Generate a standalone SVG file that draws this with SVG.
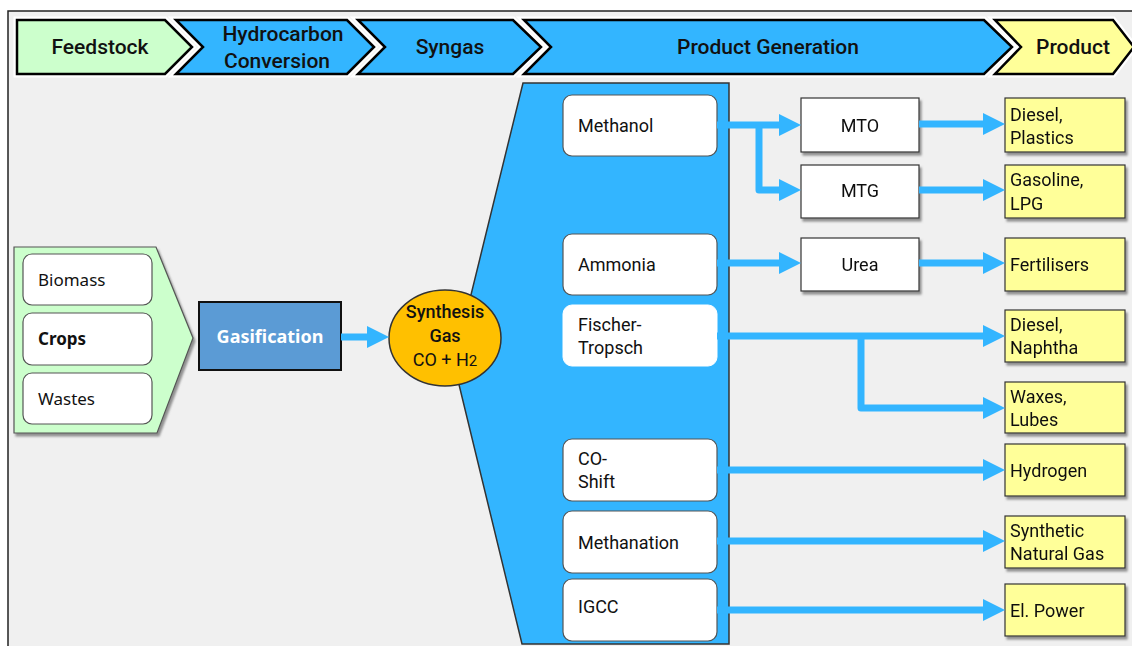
<svg xmlns="http://www.w3.org/2000/svg" width="1132" height="646" viewBox="0 0 1132 646">
<style>
.hdr{stroke:#000;stroke-width:2.5;stroke-linejoin:miter}
.hgap{fill:none;stroke:#fff;stroke-width:7;stroke-linejoin:miter}
.ht{font-family:Roboto,"Liberation Sans",sans-serif;font-weight:500;font-size:21px;fill:#111;text-anchor:middle}
.wbox{fill:#fff;stroke:#555;stroke-width:1.2}
.sq{fill:#fff;stroke:#333;stroke-width:1.2}
.yb{fill:#ffff99;stroke:#333;stroke-width:1.2}
.t{font-family:Roboto,"Liberation Sans",sans-serif;font-size:18px;fill:#111}
.tc{font-family:Roboto,"Liberation Sans",sans-serif;font-size:18px;fill:#111;text-anchor:middle}
.ts{font-family:"Noto Sans","Open Sans",sans-serif;font-size:17px;fill:#111}
.arr{fill:none;stroke:#33b5ff;stroke-width:7;stroke-linejoin:round}
</style>
<defs>
<marker id="ah" markerUnits="userSpaceOnUse" viewBox="0 0 22 22" markerWidth="22" markerHeight="22" refX="2" refY="11" orient="auto">
<path d="M0,0 L22,11 L0,22 z" fill="#33b5ff"/>
</marker>
<filter id="sh" x="-10%" y="-10%" width="130%" height="140%">
<feDropShadow dx="2" dy="3" stdDeviation="1" flood-color="#777" flood-opacity="0.8"/>
</filter>
</defs>
<rect x="0" y="0" width="1132" height="646" fill="#fff"/>
<rect x="8" y="11" width="1140" height="660" fill="#f0f0f0" stroke="#222" stroke-width="1.5"/>

<g id="header">
<g class="hgap">
<polygon points="17,20 165,20 192,47 165,74 17,74"/>
<polygon points="176,20 347,20 374,47 347,74 176,74 203,47"/>
<polygon points="358,20 513,20 541,47 513,74 358,74 385,47"/>
<polygon points="524,20 984,20 1012,47 984,74 524,74 551,47"/>
<polygon points="995,20 1113,20 1134,47 1113,74 995,74 1021,47"/>
</g>
<polygon class="hdr" fill="#ccffcc" points="17,20 165,20 192,47 165,74 17,74"/>
<polygon class="hdr" fill="#33b5ff" points="176,20 347,20 374,47 347,74 176,74 203,47"/>
<polygon class="hdr" fill="#33b5ff" points="358,20 513,20 541,47 513,74 358,74 385,47"/>
<polygon class="hdr" fill="#33b5ff" points="524,20 984,20 1012,47 984,74 524,74 551,47"/>
<polygon class="hdr" fill="#ffff99" points="995,20 1113,20 1134,47 1113,74 995,74 1021,47"/>
<text class="ht" x="100" y="54">Feedstock</text>
<text class="ht" x="283" y="41">Hydrocarbon</text>
<text class="ht" x="277" y="68">Conversion</text>
<text class="ht" x="450" y="54">Syngas</text>
<text class="ht" x="768" y="54">Product Generation</text>
<text class="ht" x="1073" y="54">Product</text>
</g>

<g id="feedstock">
<polygon points="14,247 156,247 193,338 157,433 14,433" fill="#ccffcc" stroke="#555" stroke-width="1.2" filter="url(#sh)"/>
<g id="biomass"><rect class="wbox" x="23" y="254" width="129" height="51" rx="9"/><text class="ts" x="38" y="286">Biomass</text></g>
<g id="crops"><rect class="wbox" x="23" y="313" width="129" height="52" rx="9"/><text class="ts" x="38" y="345" font-weight="bold" font-size="18">Crops</text></g>
<g id="wastes"><rect class="wbox" x="23" y="373" width="129" height="51" rx="9"/><text class="ts" x="38" y="405">Wastes</text></g>
</g>

<g id="gasification">
<rect x="199" y="302" width="142" height="68" fill="#5b9bd5" stroke="#111" stroke-width="2"/>
<text x="270" y="343" font-family="'Noto Sans','Open Sans',sans-serif" font-size="18" font-weight="bold" fill="#fff" text-anchor="middle">Gasification</text>
</g>

<g id="productgen">
<polygon points="523,83 729,83 729,644 522,644 454,364" fill="#33b5ff" stroke="#333" stroke-width="1.5"/>
</g>

<g id="syngas">
<ellipse cx="445" cy="338" rx="56" ry="48" fill="#ffc000" stroke="#333" stroke-width="1.5"/>
<text class="tc" x="445" y="318" font-weight="500" font-size="19">Synthesis</text>
<text class="tc" x="445" y="342" font-weight="500" font-size="19">Gas</text>
<text class="tc" x="445" y="366" font-size="19">CO + H<tspan font-size="15">2</tspan></text>
</g>

<g id="methanol"><rect class="wbox" x="563" y="95" width="154" height="61" rx="9"/><text class="t" x="578" y="132">Methanol</text></g>
<g id="ammonia"><rect class="wbox" x="563" y="234" width="154" height="61" rx="9"/><text class="t" x="578" y="271">Ammonia</text></g>
<g id="fischer"><rect x="563" y="305" width="154" height="61" rx="9" fill="#fff" stroke="#fff"/><text class="t" x="578" y="331">Fischer-</text><text class="t" x="578" y="354">Tropsch</text></g>
<g id="coshift"><rect class="wbox" x="563" y="439" width="154" height="62" rx="9"/><text class="t" x="578" y="465">CO-</text><text class="t" x="578" y="488">Shift</text></g>
<g id="methanation"><rect class="wbox" x="563" y="511" width="154" height="62" rx="9"/><text class="t" x="578" y="549">Methanation</text></g>
<g id="igcc"><rect class="wbox" x="563" y="579" width="154" height="62" rx="9"/><text class="t" x="578" y="613">IGCC</text></g>

<g id="mto" filter="url(#sh)"><rect class="sq" x="801" y="98" width="118" height="54"/><text class="tc" x="860" y="132">MTO</text></g>
<g id="mtg" filter="url(#sh)"><rect class="sq" x="801" y="165" width="118" height="53"/><text class="tc" x="860" y="197">MTG</text></g>
<g id="urea" filter="url(#sh)"><rect class="sq" x="801" y="238" width="118" height="53"/><text class="tc" x="860" y="271">Urea</text></g>

<g id="p-diesel-plastics" filter="url(#sh)"><rect class="yb" x="1005" y="98" width="120" height="54"/><text class="t" x="1010" y="121">Diesel,</text><text class="t" x="1010" y="144">Plastics</text></g>
<g id="p-gasoline" filter="url(#sh)"><rect class="yb" x="1005" y="165" width="120" height="53"/><text class="t" x="1010" y="186">Gasoline,</text><text class="t" x="1010" y="210">LPG</text></g>
<g id="p-fert" filter="url(#sh)"><rect class="yb" x="1005" y="238" width="120" height="53"/><text class="t" x="1010" y="271">Fertilisers</text></g>
<g id="p-diesel-naphtha" filter="url(#sh)"><rect class="yb" x="1005" y="310" width="120" height="52"/><text class="t" x="1010" y="331">Diesel,</text><text class="t" x="1010" y="354">Naphtha</text></g>
<g id="p-waxes" filter="url(#sh)"><rect class="yb" x="1005" y="382" width="120" height="51"/><text class="t" x="1010" y="403">Waxes,</text><text class="t" x="1010" y="426">Lubes</text></g>
<g id="p-hydrogen" filter="url(#sh)"><rect class="yb" x="1005" y="444" width="120" height="52"/><text class="t" x="1010" y="477">Hydrogen</text></g>
<g id="p-sng" filter="url(#sh)"><rect class="yb" x="1005" y="516" width="120" height="52"/><text class="t" x="1010" y="537">Synthetic</text><text class="t" x="1010" y="560">Natural Gas</text></g>
<g id="p-power" filter="url(#sh)"><rect class="yb" x="1005" y="584" width="120" height="52"/><text class="t" x="1010" y="617">El. Power</text></g>

<g id="connectors">
<path class="arr" d="M341,337 H369" marker-end="url(#ah)"/>
<path class="arr" d="M717,125 H781" marker-end="url(#ah)"/>
<path class="arr" d="M759,125 V190 H781" marker-end="url(#ah)"/>
<path class="arr" d="M717,263 H781" marker-end="url(#ah)"/>
<path class="arr" d="M919,124 H985" marker-end="url(#ah)"/>
<path class="arr" d="M919,190 H985" marker-end="url(#ah)"/>
<path class="arr" d="M919,263 H985" marker-end="url(#ah)"/>
<path class="arr" d="M717,336 H985" marker-end="url(#ah)"/>
<path class="arr" d="M861,336 V408 H985" marker-end="url(#ah)"/>
<path class="arr" d="M717,470 H985" marker-end="url(#ah)"/>
<path class="arr" d="M717,541 H985" marker-end="url(#ah)"/>
<path class="arr" d="M717,610 H985" marker-end="url(#ah)"/>
</g>
</svg>
